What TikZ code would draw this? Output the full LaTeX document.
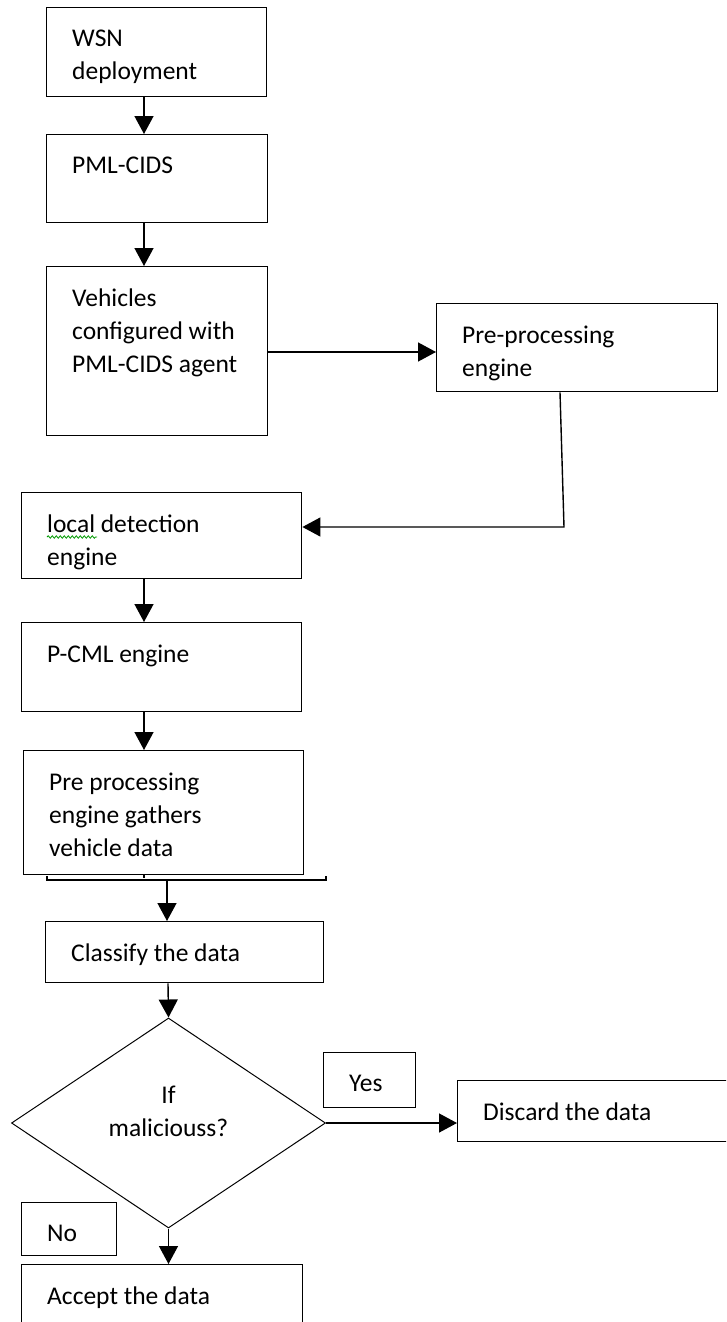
\documentclass[tikz,border=0pt]{standalone}
\usepackage{fontspec}
\setmainfont{Carlito}
\usetikzlibrary{arrows.meta,shapes.geometric,decorations.pathmorphing}

\begin{document}
\begin{tikzpicture}[x=1pt,y=-1pt,
	box/.style={draw,line width=1.4pt,inner sep=0pt,anchor=north west},
	txt/.style={anchor=north west,align=left,inner sep=0pt,font=\fontsize{25.5}{33}\selectfont},
	flow/.style={line width=1.4pt,-{Triangle[length=18pt,width=19pt]}},
	wire/.style={line width=1.4pt},
	squig/.style={green!60!black,line width=0.8pt,decorate,decoration={snake,amplitude=1.2pt,segment length=4pt}}]
		\path[use as bounding box,clip] (0,0) rectangle (726,1322);
		\node[box,minimum width=220,minimum height=89] (wsn) at (46,7) {};
		\node[txt] (wsnT) at ([shift={(26,23)}]wsn.north west) {WSN\\deployment};
		\node[box,minimum width=221,minimum height=88] (pml) at (46,134) {};
		\node[txt] (pmlT) at ([shift={(26,23)}]pml.north west) {PML-CIDS};
		\node[box,minimum width=221,minimum height=169] (veh) at (46,266) {};
		\node[txt] (vehT) at ([shift={(26,23)}]veh.north west) {Vehicles\\configured with\\PML-CIDS agent};
		\node[box,minimum width=281,minimum height=88] (prep) at (436,303) {};
		\node[txt] (prepT) at ([shift={(26,23)}]prep.north west) {Pre-processing\\engine};
		\node[box,minimum width=280,minimum height=86] (local) at (21,492) {};
		\node[txt] (localT) at ([shift={(26,23)}]local.north west) {local detection\\engine};
		\node[box,minimum width=280,minimum height=89] (pcml) at (21,622) {};
		\node[txt] (pcmlT) at ([shift={(26,23)}]pcml.north west) {P-CML engine};
		\node[box,minimum width=280,minimum height=124] (gath) at (23,750) {};
		\node[txt] (gathT) at ([shift={(26,23)}]gath.north west) {Pre processing\\engine gathers\\vehicle data};
		\node[box,minimum width=278,minimum height=61] (cls) at (45,921) {};
		\node[txt] (clsT) at ([shift={(26,23)}]cls.north west) {Classify the data};
		\node[draw,diamond,line width=1pt,inner sep=0pt,minimum width=314,minimum height=210] (dec) at (168.5,1123) {};
		\node[txt,anchor=north,align=center] (decT) at ([yshift=-68]dec.north) {If\\maliciouss?};
		\node[box,minimum width=92,minimum height=55] (yes) at (323,1052) {};
		\node[txt] (yesT) at ([shift={(26,23)}]yes.north west) {Yes};
		\node[box,minimum width=300,minimum height=61] (disc) at (457,1080) {};
		\node[txt] (discT) at ([shift={(26,23)}]disc.north west) {Discard the data};
		\node[box,minimum width=95,minimum height=53] (no) at (21,1202) {};
		\node[txt] (noT) at ([shift={(26,23)}]no.north west) {No};
		\node[box,minimum width=281,minimum height=90] (acc) at (21,1264) {};
		\node[txt] (accT) at ([shift={(26,23)}]acc.north west) {Accept the data};
		\draw[squig] (47,537) -- (97,537);
		\coordinate (bend) at (564,527);
		\coordinate (brL) at (47,880);
		\coordinate (brR) at (326,880);
		\coordinate (brM) at (167,880);
		\draw[flow] ([xshift=98]wsn.south west) -- ([xshift=98]pml.north west);
		\draw[flow] ([xshift=98]pml.south west) -- ([xshift=98]veh.north west);
		\draw[flow] ([yshift=-86]veh.north east) -- ([yshift=-86]veh.north east -| prep.west);
		\draw[flow] ([xshift=124]prep.south west) -- (bend) -- (bend -| local.east);
		\draw[flow] ([xshift=123]local.south west) -- ([xshift=123]pcml.north west);
		\draw[flow] ([xshift=123]pcml.south west) -- ([xshift=123]pcml.south west |- gath.north);
		\draw[wire] ([xshift=121]gath.south west) -- ++(0,3);
		\draw[wire] ([yshift=4]brL) -- (brL) -- (brR) -- ([yshift=4]brR);
		\draw[flow] (brM) -- (brM |- cls.north);
		\draw[flow] ([xshift=123]cls.south west) -- (dec.north);
		\draw[flow] (dec.east) -- (dec.east -| disc.west);
		\draw[flow] (dec.south) -- (dec.south |- acc.north);
		\end{tikzpicture}
\end{document}
